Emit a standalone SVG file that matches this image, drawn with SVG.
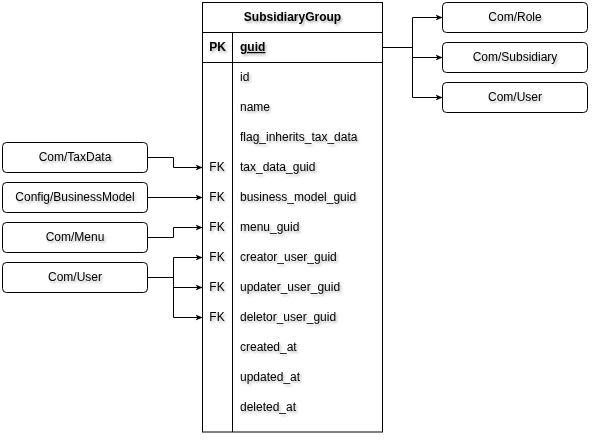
<svg xmlns="http://www.w3.org/2000/svg" width="601" height="447" viewBox="0 0 601 447">
<defs>
<filter id="ts" x="-10%" y="-30%" width="130%" height="180%">
<feDropShadow dx="1.5" dy="2" stdDeviation="1.2" flood-color="#000" flood-opacity="0.3"/>
</filter>
<marker id="arr" viewBox="0 0 10 10" refX="9" refY="5" markerWidth="7" markerHeight="7" orient="auto" markerUnits="userSpaceOnUse">
<path d="M0,1 L10,5 L0,9 L2.5,5 Z" fill="#000"/>
</marker>
</defs>
<style>
text{font-family:"Liberation Sans",Arial,Helvetica,sans-serif;font-size:12px;fill:#000;filter:url(#ts)}
.b{font-weight:bold}
.c{text-anchor:middle}
.box{fill:#fff;stroke:#000;stroke-width:1}
.ln{fill:none;stroke:#000;stroke-width:1}
.con{fill:none;stroke:#000;stroke-width:1;marker-end:url(#arr)}
</style>
<rect width="601" height="447" fill="#fff"/>

<g id="table-SubsidiaryGroup">
<rect class="box" x="202.5" y="2.5" width="180" height="429.5"/>
<line class="ln" x1="202.5" y1="32.5" x2="382.5" y2="32.5"/>
<line class="ln" x1="202.5" y1="62.5" x2="382.5" y2="62.5"/>
<line class="ln" x1="232.5" y1="32.5" x2="232.5" y2="432"/>
<text class="b c" x="292.5" y="21">SubsidiaryGroup</text>
<text class="b c" x="217.5" y="51">PK</text>
<text class="b" x="240" y="51" text-decoration="underline">guid</text>
<text x="240" y="81">id</text>
<text x="240" y="111">name</text>
<text x="240" y="141">flag_inherits_tax_data</text>
<text class="c" x="217" y="171">FK</text>
<text x="240" y="171">tax_data_guid</text>
<text class="c" x="217" y="201">FK</text>
<text x="240" y="201">business_model_guid</text>
<text class="c" x="217" y="231">FK</text>
<text x="240" y="231">menu_guid</text>
<text class="c" x="217" y="261">FK</text>
<text x="240" y="261">creator_user_guid</text>
<text class="c" x="217" y="291">FK</text>
<text x="240" y="291">updater_user_guid</text>
<text class="c" x="217" y="321">FK</text>
<text x="240" y="321">deletor_user_guid</text>
<text x="240" y="351">created_at</text>
<text x="240" y="381">updated_at</text>
<text x="240" y="411">deleted_at</text>
</g>

<g id="node-ComRole">
<rect class="box" x="442.5" y="2.5" width="145" height="30" rx="4"/>
<text class="c" x="515" y="21">Com/Role</text>
</g>
<g id="node-ComSubsidiary">
<rect class="box" x="442.5" y="42.5" width="145" height="30" rx="4"/>
<text class="c" x="515" y="61">Com/Subsidiary</text>
</g>
<g id="node-ComUser-right">
<rect class="box" x="442.5" y="82.5" width="145" height="30" rx="4"/>
<text class="c" x="515" y="101">Com/User</text>
</g>

<g id="node-ComTaxData">
<rect class="box" x="2.5" y="142.5" width="145" height="30" rx="4"/>
<text class="c" x="75" y="161">Com/TaxData</text>
</g>
<g id="node-ConfigBusinessModel">
<rect class="box" x="2.5" y="182.5" width="145" height="30" rx="4"/>
<text class="c" x="75" y="201">Config/BusinessModel</text>
</g>
<g id="node-ComMenu">
<rect class="box" x="2.5" y="222.5" width="145" height="30" rx="4"/>
<text class="c" x="75" y="241">Com/Menu</text>
</g>
<g id="node-ComUser-left">
<rect class="box" x="2.5" y="262.5" width="145" height="30" rx="4"/>
<text class="c" x="75" y="281">Com/User</text>
</g>

<g id="connectors">
<path class="con" d="M382.5,47.5 H412.5 V17.5 H442"/>
<path class="con" d="M382.5,47.5 H412.5 V57.5 H442"/>
<path class="con" d="M382.5,47.5 H412.5 V97.5 H442"/>
<path class="con" d="M147.5,157.5 H173.5 V167.5 H202"/>
<path class="con" d="M147.5,197.5 H202"/>
<path class="con" d="M147.5,237.5 H173.5 V227.5 H202"/>
<path class="con" d="M147.5,277.5 H173.5 V257.5 H202"/>
<path class="con" d="M147.5,277.5 H173.5 V287.5 H202"/>
<path class="con" d="M147.5,277.5 H173.5 V317.5 H202"/>
</g>
</svg>
